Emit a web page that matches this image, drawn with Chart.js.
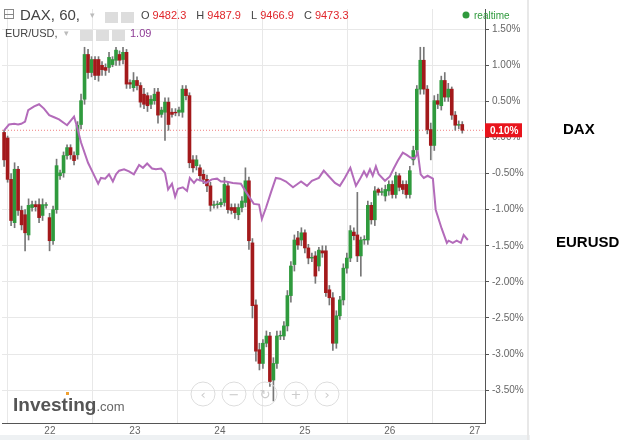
<!DOCTYPE html>
<html>
<head>
<meta charset="utf-8">
<script src="https://cdn.jsdelivr.net/npm/chart.js@4"></script>
<style>
  html, body { margin: 0; padding: 0; background: #fff; }
  #wrap { width: 639px; height: 440px; }
</style>
</head>
<body>
<div id="wrap"><canvas id="chart" width="639" height="440"></canvas></div>
<script>
// DAX hourly candles, % change (index = hour bar)
const daxOpen = [0.07,0,-0.58,-1.18,-0.44,-1.01,-1.07,-1.35,-0.97,-0.93,-0.93,-1.08,-0.94,-1.11,-1.43,-1.0,-0.53,-0.49,-0.25,-0.14,-0.25,-0.24,0.18,0.53,
  1.15,0.90,1.08,1.08,1.0,0.97,0.97,1.01,1.07,1.15,1.08,1.18,0.76,0.69,0.79,0.72,0.60,0.58,0.46,0.51,0.63,0.32,0.35,0.49,
  0.35,0.35,0.35,0.35,0.67,0.58,-0.31,-0.39,-0.42,-0.51,-0.58,-0.67,-0.94,-0.93,-0.93,-0.90,-0.67,-0.97,-0.97,-1.07,-0.97,-0.90,-0.60,-1.46,
  -2.32,-2.94,-3.13,-2.85,-2.75,-3.36,-3.13,-2.75,-2.75,-2.61,-2.19,-1.76,-1.39,-1.42,-1.32,-1.53,-1.67,-1.64,-1.78,-1.57,-1.57,-2.11,-2.22,-2.85,
  -2.47,-2.25,-1.81,-1.67,-1.31,-1.35,-1.64,-1.42,-1.42,-0.94,-1.14,-0.72,-0.76,-0.81,-0.74,-0.65,-0.79,-0.53,-0.65,-0.65,-0.79,-0.31,-0.17,0.67,
  1.07,0.67,0.11,-0.11,0.51,0.44,0.79,0.56,0.67,0.31,0.17,0.18];
const daxClose = [-0.31,-0.58,-1.15,-0.44,-1.01,-1.21,-1.32,-0.94,-0.93,-0.96,-1.11,-0.93,-0.93,-1.43,-1.0,-0.39,-0.49,-0.25,-0.14,-0.24,-0.32,0.17,0.51,1.15,
  0.90,1.08,0.86,0.86,0.94,0.93,1.11,1.08,1.21,1.07,1.18,0.74,0.74,0.79,0.72,0.49,0.46,0.44,0.53,0.60,0.31,0.38,0.49,0.18,
  0.32,0.34,0.38,0.67,0.58,-0.35,-0.42,-0.31,-0.53,-0.58,-0.67,-0.94,-0.93,-0.92,-0.90,-0.65,-1.0,-1.01,-1.04,-0.97,-0.88,-0.60,-1.43,-2.33,
  -2.96,-3.13,-2.85,-2.75,-3.38,-3.13,-2.75,-2.74,-2.61,-2.19,-1.78,-1.42,-1.49,-1.32,-1.53,-1.67,-1.66,-1.92,-1.56,-1.60,-2.15,-2.22,-2.85,-2.47,
  -2.25,-1.81,-1.67,-1.29,-1.36,-1.64,-1.42,-1.41,-0.94,-1.14,-0.74,-0.76,-0.75,-0.72,-0.65,-0.79,-0.53,-0.69,-0.72,-0.79,-0.46,-0.18,0.67,1.07,
  0.67,0.11,-0.11,0.51,0.46,0.79,0.56,0.67,0.31,0.17,0.18,0.10];
const daxHigh = [0.10,0.02,-0.50,-0.35,-0.40,-0.95,-1.00,-0.85,-0.88,-0.88,-0.85,-0.85,-0.90,-1.05,-0.95,-0.30,-0.45,-0.20,-0.10,-0.10,-0.20,0.22,0.60,1.25,
  1.22,1.12,1.12,1.12,1.05,1.02,1.18,1.12,1.25,1.20,1.25,1.22,0.80,0.90,0.84,0.76,0.68,0.62,0.58,0.68,0.68,0.42,0.55,0.55,
  0.40,0.40,0.42,0.72,0.72,0.62,-0.25,-0.25,-0.38,-0.45,-0.52,-0.62,-0.88,-0.88,-0.85,-0.55,-0.62,-0.92,-0.92,-0.92,-0.82,-0.42,-0.55,-1.40,
  -2.25,-2.85,-2.80,-2.68,-2.70,-3.05,-2.68,-2.68,-2.55,-2.12,-1.72,-1.35,-1.30,-1.25,-1.28,-1.48,-1.60,-1.58,-1.52,-1.50,-1.50,-2.05,-2.15,-2.40,
  -2.20,-1.75,-1.60,-1.22,-1.25,-0.76,-1.38,-1.36,-0.88,-0.90,-0.68,-0.70,-0.70,-0.66,-0.60,-0.60,-0.48,-0.50,-0.60,-0.60,-0.40,-0.12,0.72,1.25,
  1.25,0.72,0.20,0.58,0.60,0.85,0.90,0.75,0.70,0.36,0.23,0.22];
const daxLow = [-0.40,-0.62,-1.22,-1.25,-1.08,-1.28,-1.57,-1.42,-1.02,-1.02,-1.18,-1.15,-0.98,-1.57,-1.48,-1.05,-0.58,-0.55,-0.30,-0.30,-0.38,-0.30,0.12,0.46,
  0.82,0.84,0.80,0.78,0.86,0.86,0.90,0.98,1.00,1.00,1.02,0.68,0.68,0.64,0.66,0.42,0.40,0.36,0.40,0.46,0.20,0.28,-0.04,0.10,
  0.28,0.30,0.30,0.28,0.52,-0.42,-0.48,-0.45,-0.60,-0.64,-0.75,-1.02,-0.98,-0.98,-0.96,-0.95,-1.05,-1.06,-1.12,-1.14,-1.03,-0.96,-1.55,-2.50,
  -3.10,-3.22,-3.20,-2.90,-3.45,-3.65,-3.20,-2.80,-2.80,-2.68,-2.28,-1.85,-1.55,-1.50,-1.60,-1.75,-1.72,-2.02,-1.85,-1.66,-2.20,-2.32,-2.95,-2.92,
  -2.52,-2.32,-1.88,-1.72,-1.42,-1.72,-1.92,-1.48,-1.48,-1.20,-1.22,-0.80,-0.80,-0.88,-0.80,-0.84,-0.84,-0.74,-0.78,-0.84,-0.84,-0.38,-0.24,0.60,
  0.60,0.05,-0.31,-0.18,0.40,0.38,0.50,0.50,0.25,0.10,0.12,0.06];

// EUR/USD overlay (hour bar index, % change)
const eurIdx = [0,1.4,2.9,4,4.9,6,6.9,8.6,10,11.4,12.9,14.3,15.7,18,20,20.9,22,24,25.4,26.9,27.7,28.9,30,31.1,32,32.9,34.3,35.7,37.1,38.6,39.7,40.9,42.3,43.4,44.9,46,46.9,48,48.9,49.7,
  51.1,52.3,53.1,54.3,55.1,56.6,57.7,59.4,60.9,62,63.4,65.4,67.7,69.1,71.4,72.9,73.7,74.9,76.3,77.7,78.9,80.6,82.6,84,84.9,86.6,88,90,91.4,92.9,94.6,96,97.4,99,99.7,100.6,
  101.7,102.9,103.7,104.6,105.4,106.3,107.1,108.9,110.3,111.4,112.6,114,115.1,116.3,117.4,118.3,119.1,120,121.1,122.6,123.4,125.1,126.6,127.1,128.3,129.4,130.6,131.4,132.6];
const eurPct = [0.10,0.18,0.19,0.18,0.19,0.22,0.38,0.43,0.46,0.40,0.31,0.28,0.25,0.17,0.29,0.14,-0.07,-0.35,-0.49,-0.64,-0.56,-0.57,-0.51,-0.61,-0.51,-0.46,-0.44,-0.47,-0.51,-0.38,-0.42,-0.36,-0.43,-0.44,-0.43,-0.49,-0.72,-0.64,-0.82,-0.71,
  -0.69,-0.74,-0.56,-0.63,-0.58,-0.60,-0.63,-0.58,-0.57,-0.61,-0.61,-0.63,-0.64,-0.75,-0.92,-0.93,-1.13,-0.97,-0.76,-0.56,-0.57,-0.61,-0.69,-0.64,-0.61,-0.67,-0.60,-0.56,-0.46,-0.54,-0.63,-0.67,-0.56,-0.42,-0.53,-0.67,
  -0.58,-0.47,-0.54,-0.44,-0.53,-0.40,-0.51,-0.60,-0.54,-0.43,-0.32,-0.21,-0.24,-0.28,-0.29,-0.21,-0.51,-0.56,-0.53,-0.57,-1.0,-1.26,-1.46,-1.43,-1.46,-1.43,-1.46,-1.35,-1.42];

const dayLabels = ['22','23','24','25','26','27'];
const firstDayIdx = 13.1;   // bar index of midnight on the 22nd
const barsPerDay = 24.3;
const yTicks = [1.5,1.0,0.5,0.0,-0.5,-1.0,-1.5,-2.0,-2.5,-3.0,-3.5];
const lastPct = 0.10;

const GREEN = '#2f9a3d', RED = '#a3191b', WICK = '#777';

const bodies = daxOpen.map((o, i) => ({ x: i, y: [o, daxClose[i]] }));
const wicks = daxOpen.map((o, i) => ({ x: i, y: [daxLow[i], daxHigh[i]] }));
const bodyColors = daxOpen.map((o, i) => daxClose[i] >= o ? GREEN : RED);

const decor = {
  id: 'decor',
  beforeDatasetsDraw(chart) {
    const { ctx, chartArea: a, scales: { y } } = chart;
    const yy = y.getPixelForValue(lastPct);
    ctx.save();
    ctx.strokeStyle = '#f08080';
    ctx.setLineDash([1, 2]);
    ctx.beginPath(); ctx.moveTo(a.left, yy); ctx.lineTo(a.right, yy); ctx.stroke();
    ctx.restore();
  },
  beforeDraw(chart) {
    const ctx = chart.ctx;
    ctx.save();
    // bottom band
    ctx.fillStyle = '#eef1f3';
    ctx.fillRect(0, 435, 530, 5);
    // right separator
    ctx.fillStyle = '#e8e8e8';
    ctx.fillRect(527, 0, 2, 440);
    ctx.restore();
  },
  afterDraw(chart) {
    const { ctx, chartArea: a, scales: { y } } = chart;
    ctx.save();
    // last price label
    const yy = y.getPixelForValue(lastPct);
    ctx.fillStyle = '#e8141c';
    ctx.fillRect(a.right, yy - 7, 37, 14);
    ctx.fillStyle = '#fff';
    ctx.font = 'bold 10px Arial, "Liberation Sans"';
    ctx.textBaseline = 'middle';
    ctx.fillText(lastPct.toFixed(2) + '%', a.right + 5, yy + 1);
    // header
    ctx.textBaseline = 'alphabetic';
    ctx.strokeStyle = '#888'; ctx.lineWidth = 1;
    ctx.strokeRect(4.5, 9.5, 9, 9);
    ctx.beginPath(); ctx.moveTo(5, 14.5); ctx.lineTo(13, 14.5); ctx.stroke();
    ctx.fillStyle = '#444';
    ctx.font = '15px Arial, "Liberation Sans"';
    ctx.fillText('DAX, 60,', 20, 20);
    ctx.fillStyle = '#bbb';
    ctx.font = '9px Arial';
    ctx.fillText('▾', 90, 18);
    ctx.fillText('▾', 64, 36);
    [[105,12],[121,12],[80,30],[96,30],[112,30]].forEach(p => { ctx.fillStyle = '#ddd'; ctx.fillRect(p[0], p[1], 13, 11); });
    ctx.font = '11px Arial, "Liberation Sans"';
    let x = 141;
    [['O ', ' 9482.3'], ['H ', ' 9487.9'], ['L ', ' 9466.9'], ['C ', ' 9473.3']].forEach(([k, v]) => {
      ctx.fillStyle = '#444'; ctx.fillText(k, x, 19); x += ctx.measureText(k).width;
      ctx.fillStyle = '#e0262b'; ctx.fillText(v.trim(), x, 19); x += ctx.measureText(v).width + 7;
    });
    ctx.fillStyle = '#444';
    ctx.font = '11px Arial, "Liberation Sans"';
    ctx.fillText('EUR/USD,', 5, 37);
    ctx.fillStyle = '#8e3b95';
    ctx.fillText('1.09', 130, 37);
    ctx.fillStyle = '#2f9a3d';
    ctx.beginPath(); ctx.arc(466, 15, 3.5, 0, Math.PI * 2); ctx.fill();
    ctx.font = '10px Arial, "Liberation Sans"';
    ctx.fillText('realtime', 474, 19);
    // nav buttons
    ctx.strokeStyle = '#ddd';
    ['‹', '−', '↻', '+', '›'].forEach((s, k) => {
      const cx = 203 + k * 31;
      ctx.beginPath(); ctx.arc(cx, 394, 12, 0, Math.PI * 2); ctx.stroke();
      ctx.fillStyle = '#ccc'; ctx.font = '13px "DejaVu Sans"'; ctx.textAlign = 'center';
      ctx.fillText(s, cx, 399);
    });
    ctx.textAlign = 'left';
    // logo
    ctx.fillStyle = '#555';
    ctx.font = 'bold 19px Arial, "Liberation Sans"';
    ctx.fillText('Investing', 13, 411);
    const w = ctx.measureText('Investing').width;
    ctx.font = '13px Arial, "Liberation Sans"';
    ctx.fillStyle = '#666';
    ctx.fillText('.com', 13 + w, 411);
    ctx.fillStyle = '#f0a030';
    ctx.fillRect(66, 392, 3, 3);
    // side labels
    ctx.fillStyle = '#000';
    ctx.font = 'bold 15px Arial, "Liberation Sans"';
    ctx.fillText('DAX', 563, 134);
    ctx.fillText('EURUSD', 556, 247);
    ctx.restore();
  }
};

new Chart(document.getElementById('chart'), {
  type: 'bar',
  data: {
    datasets: [
      { type: 'line', data: eurIdx.map((v, i) => ({ x: v, y: eurPct[i] })), borderColor: '#b36bba', borderWidth: 2,
        pointRadius: 0, tension: 0, order: 0 },
      { data: bodies, backgroundColor: bodyColors, borderColor: bodyColors, barThickness: 3, grouped: false, order: 1 },
      { data: wicks, backgroundColor: WICK, barThickness: 1, grouped: false, order: 2 }
    ]
  },
  options: {
    responsive: false,
    animation: false,
    layout: { padding: { left: 2, right: 114, top: 0, bottom: 0 } },
    plugins: { legend: { display: false }, tooltip: { enabled: false } },
    scales: {
      x: {
        type: 'linear',
        min: -0.6, max: 137.5,
        offset: false,
        grid: { color: '#e8e8e8', drawTicks: false },
        border: { color: '#555' },
        afterFit(s) { s.height = 17; },
        afterBuildTicks(s) { s.ticks = dayLabels.map((d, k) => ({ value: firstDayIdx + k * barsPerDay })); },
        ticks: {
          color: '#666', font: { size: 10, family: 'Arial' }, padding: 2, maxRotation: 0,
          callback: (v, i) => dayLabels[i]
        }
      },
      y: {
        position: 'right',
        min: -3.955, max: 1.78,
        grid: { color: '#e8e8e8', tickLength: 4, tickColor: '#555' },
        border: { color: '#555' },
        afterFit(s) { s.width = 40; },
        afterBuildTicks(s) { s.ticks = yTicks.map(v => ({ value: v })); },
        ticks: { color: '#666', font: { size: 10, family: 'Arial' }, padding: 3, callback: v => v.toFixed(2) + '%' }
      }
    }
  },
  plugins: [decor]
});
</script>
</body>
</html>
